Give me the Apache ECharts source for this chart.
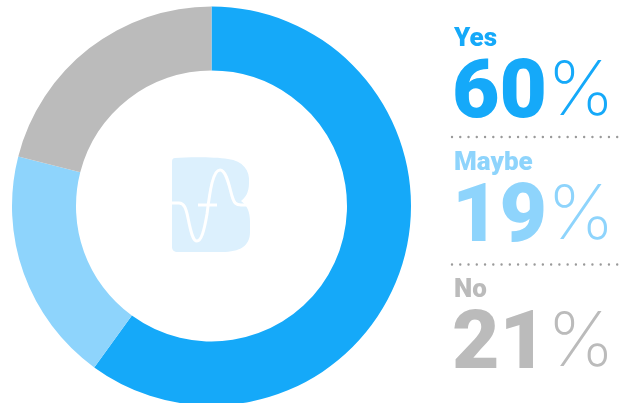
<!DOCTYPE html>
<html>
<head>
<meta charset="utf-8">
<script src="https://cdn.jsdelivr.net/npm/echarts@6/dist/echarts.min.js"></script>
<style>
  html, body { margin: 0; padding: 0; background: #ffffff; }
  #chart { width: 622px; height: 403px; }
</style>
</head>
<body>
<div id="chart"></div>
<script>
// Survey answers and their shares (percent)
const categories = ['Yes', 'Maybe', 'No'];
const values = [60, 19, 21];

// One colour per answer
const palette = ['#15a9f9', '#8ed4fc', '#bbbbbb'];

// Logo outline and its wave, registered as reusable shapes
echarts.graphic.registerShape('logoBody', echarts.graphic.extendPath(
  'M175,158 C190,157 215,157 228,159 C243,161 250,170 249,183 C249,193 245,198 241,201 ' +
  'C247,205 250,212 250,222 L250,232 C250,246 240,252 222,252 L178,252 ' +
  'C174,252 172,250 172,247 L172,162 C172,159 173,158 175,158 Z', {}));
echarts.graphic.registerShape('logoWave', echarts.graphic.extendPath(
  'M170,203 L179,203 C184,203 186,208 188,218 C191,233 193,241 197,241 ' +
  'C201,241 204,232 207,214 C210,190 213,170 220,170 C226,170 229,185 232,196 ' +
  'C234,203 236,205 241,205 L252,205', {}));

const chart = echarts.init(document.getElementById('chart'), null, { renderer: 'canvas' });

// Text measuring helper for placing the percent sign after the number
const measureCtx = document.createElement('canvas').getContext('2d');
function textWidth(text, font) {
  measureCtx.font = font;
  return measureCtx.measureText(text).width;
}

// Right-hand legend: answer name, big percentage, dotted separator
const legendX = 454;
const labelCenters = [39, 163, 290.5];
const numberOffset = 57;
const percentOffset = 53;
const labelFont = '900 26px Roboto';
const numberFont = '900 82px Roboto';
const percentFont = '200 76px Inter';
const legendGraphics = [];
categories.forEach(function (name, i) {
  const cy = labelCenters[i];
  const numText = String(values[i]);
  legendGraphics.push({
    type: 'text',
    x: legendX,
    y: cy,
    silent: true,
    style: { text: name, font: labelFont, fill: palette[i], verticalAlign: 'middle' }
  });
  legendGraphics.push({
    type: 'text',
    x: legendX - 2,
    y: cy + numberOffset,
    silent: true,
    style: { text: numText, font: numberFont, fill: palette[i], verticalAlign: 'middle' }
  });
  legendGraphics.push({
    type: 'text',
    x: legendX - 2 + textWidth(numText, numberFont),
    y: cy + percentOffset,
    silent: true,
    style: { text: '%', font: percentFont, fill: palette[i], verticalAlign: 'middle' }
  });
  if (i > 0) {
    legendGraphics.push({
      type: 'line',
      silent: true,
      shape: { x1: 452, y1: cy - 26, x2: 622, y2: cy - 26 },
      style: { stroke: '#9a9a9a', lineWidth: 2.4, lineCap: 'round', lineDash: [0.01, 8.25] }
    });
  }
});

// Faint logo in the middle of the ring
const logoGraphics = [
  { type: 'logoBody', silent: true, style: { fill: '#dcf0fd' } },
  { type: 'logoWave', silent: true, style: { stroke: '#ffffff', lineWidth: 3, fill: null, lineCap: 'round' } },
  {
    type: 'line',
    silent: true,
    shape: { x1: 198, y1: 205, x2: 217, y2: 205 },
    style: { stroke: '#ffffff', lineWidth: 3 }
  }
];

chart.setOption({
  animation: false,
  series: [{
    type: 'pie',
    center: [211.5, 206],
    radius: [135.5, 199.5],
    startAngle: 90,
    clockwise: true,
    silent: true,
    label: { show: false },
    labelLine: { show: false },
    itemStyle: { borderWidth: 0 },
    data: categories.map(function (name, i) {
      return { name: name, value: values[i], itemStyle: { color: palette[i] } };
    })
  }],
  graphic: logoGraphics.concat(legendGraphics)
});
</script>
</body>
</html>
